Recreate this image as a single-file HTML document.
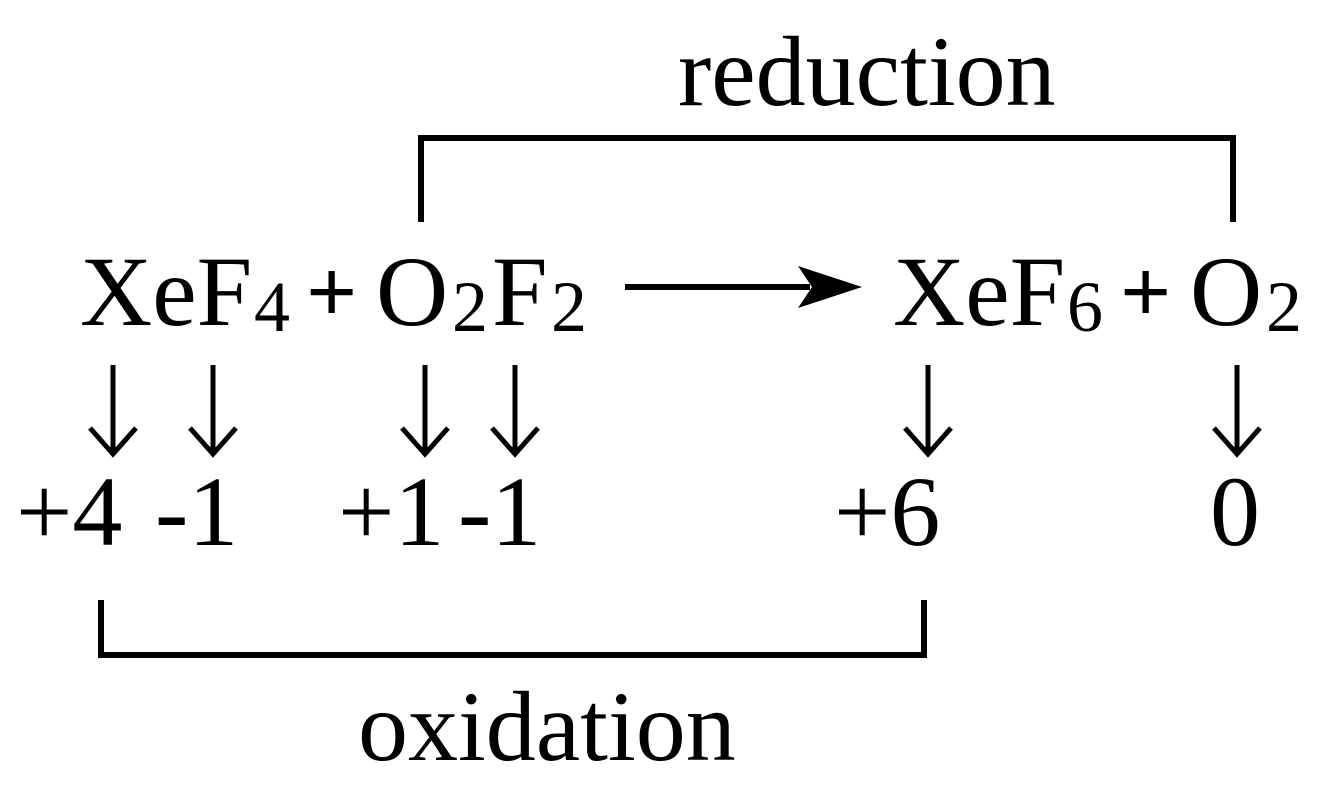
<!DOCTYPE html>
<html><head><style>html,body{margin:0;padding:0;background:#fff}svg{display:block}</style></head>
<body>
<svg width="1327" height="805" viewBox="0 0 1327 805" xmlns="http://www.w3.org/2000/svg" font-family="Liberation Serif, serif" fill="#000">
<text x="678" y="105" font-size="100">reduction</text>
<polyline points="421,222 421,138 1233,138 1233,222" fill="none" stroke="#000" stroke-width="6"/>
<text x="80" y="325" font-size="100">XeF</text>
<text x="254" y="331" font-size="72">4</text>
<text x="306" y="322" font-size="90" font-weight="bold">+</text>
<text x="376" y="325" font-size="100">O</text>
<text x="452" y="331" font-size="72">2</text>
<text x="492" y="325" font-size="100">F</text>
<text x="551" y="331" font-size="72">2</text>
<line x1="625" y1="287" x2="810" y2="287" stroke="#000" stroke-width="6"/>
<polygon points="798,266 862,287 798,308 812,287"/>
<text x="893" y="325" font-size="100">XeF</text>
<text x="1067" y="331" font-size="72">6</text>
<text x="1120" y="322" font-size="90" font-weight="bold">+</text>
<text x="1190" y="325" font-size="100">O</text>
<text x="1266" y="331" font-size="72">2</text>
<g stroke="#000" stroke-width="5" fill="none">
<path d="M113,365 V452 M90,428 L113,454 L136,428"/>
<path d="M213,365 V452 M190,428 L213,454 L236,428"/>
<path d="M425,365 V452 M402,428 L425,454 L448,428"/>
<path d="M515,365 V452 M492,428 L515,454 L538,428"/>
<path d="M928,365 V452 M905,428 L928,454 L951,428"/>
<path d="M1237,365 V452 M1214,428 L1237,454 L1260,428"/>
</g>
<g font-size="100">
<text x="16" y="545">+4</text>
<text x="155" y="545">-1</text>
<text x="338" y="545">+1</text>
<text x="458" y="545">-1</text>
<text x="834" y="545">+6</text>
<text x="1210" y="545">0</text>
</g>
<polyline points="101,600 101,655 924,655 924,600" fill="none" stroke="#000" stroke-width="6"/>
<text x="358" y="760" font-size="100">oxidation</text>
</svg>
</body></html>
